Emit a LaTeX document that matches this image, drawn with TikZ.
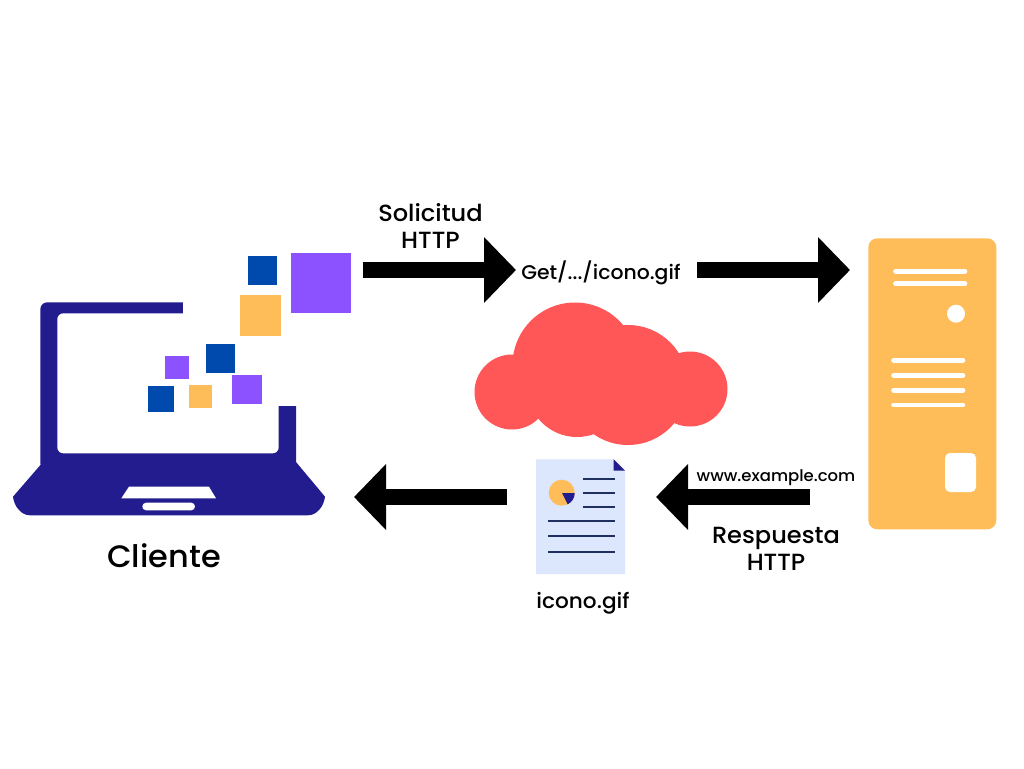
\documentclass[tikz,border=0pt]{standalone}
\usepackage{fontspec}
\setmainfont{Poppins Medium}[FakeStretch=1.03]
\usetikzlibrary{arrows.meta}
\definecolor{navy}{HTML}{231C8E}
\definecolor{purp}{HTML}{8C52FF}
\definecolor{oran}{HTML}{FFBD59}
\definecolor{blu}{HTML}{004AAD}
\definecolor{redc}{HTML}{FF5757}
\definecolor{docb}{HTML}{DCE6FC}
\definecolor{docl}{HTML}{1F2F5F}
\tikzset{
  x=1pt,y=-1pt,
  blockarrow/.style={line width=16pt,black,-{Triangle[length=32pt,width=64pt]},shorten >=0pt},
  lab/.style={inner sep=0pt,align=center,black},
  labbig/.style={lab,font=\fontsize{23.4}{27}\selectfont},
  srvline/.style={white,line width=4.6pt,line cap=round},
  docline/.style={docl,line width=1.8pt}
}
\begin{document}
\begin{tikzpicture}
\useasboundingbox (0,0) rectangle (1024,768);
\fill[white] (0,0) rectangle (1024,768);
% laptop
\fill[navy,rounded corners=7pt] (40.3,302.3) rectangle (296,470);
\fill[white,rounded corners=6pt] (57.3,313.3) rectangle (278.7,453.3);
\fill[white] (183.3,300) rectangle (298,320);
\fill[white] (265,313) rectangle (298,405.7);
\fill[navy] (43,462) -- (13,496.7) .. controls (14,506) and (21,515.3) .. (30,515.3) -- (308,515.3) .. controls (317,515.3) and (324,506) .. (325,496.7) -- (296,462) -- cycle;
\fill[white] (129,486.7) -- (209,486.7) -- (216,498.3) -- (121.3,498.3) -- cycle;
\fill[white,rounded corners=3.8pt] (142.3,502.7) rectangle (195,510.3);
% squares
\fill[blu] (248.3,256) rectangle (277.3,285);
\fill[purp] (290.7,252.7) rectangle (351,312.7);
\fill[oran] (240.3,295) rectangle (281.3,335.7);
\fill[blu] (206,343.7) rectangle (235,372.7);
\fill[purp] (165,355.7) rectangle (188.7,379);
\fill[blu] (147.7,386) rectangle (174,412.3);
\fill[oran] (188.7,384.7) rectangle (212,408);
\fill[purp] (232.3,375.3) rectangle (261.7,404.3);
% cloud
\fill[redc] (512,392) circle[radius=37.5];
\fill[redc] (575,365) circle[radius=62.5];
\fill[redc] (577,387) circle[radius=50];
\fill[redc] (628,385) circle[radius=60];
\fill[redc] (690,389) circle[radius=37.5];
% document
\fill[docb] (536,459.3) -- (613.7,459.3) -- (625,470.7) -- (625,574) -- (536,574) -- cycle;
\fill[navy] (613.7,459.3) -- (613.7,470.7) -- (625,470.7) -- cycle;
\fill[oran] (561.7,492.7) circle[radius=13];
\fill[navy] (562,493) -- (574.7,493) .. controls (574.7,498) and (572,502) .. (567.7,504.3) -- cycle;
\draw[docline] (583.3,479) -- (614.7,479);
\draw[docline] (583.3,492.7) -- (614.7,492.7);
\draw[docline] (583.3,506.7) -- (614.7,506.7);
\draw[docline] (548.3,520.7) -- (614.7,520.7);
\draw[docline] (548.3,536.3) -- (614.7,536.3);
\draw[docline] (548.3,551.7) -- (614.7,551.7);
% server
\fill[oran,rounded corners=9pt] (868.3,238.3) rectangle (996.3,529.3);
\draw[srvline] (895.5,271.3) -- (965,271.3);
\draw[srvline] (895.5,283.7) -- (965,283.7);
\draw[srvline] (893.5,360.3) -- (963,360.3);
\draw[srvline] (893.5,375.3) -- (963,375.3);
\draw[srvline] (893.5,390.3) -- (963,390.3);
\draw[srvline] (893.5,405) -- (963,405);
\fill[white] (956,313.7) circle[radius=9];
\fill[white,rounded corners=5pt] (945,453) rectangle (976,492);
% arrows
\coordinate (a1s) at (362.5,270);
\coordinate (a1e) at (516,270);
\coordinate (a2s) at (697,270);
\coordinate (a2e) at (850,270);
\coordinate (a3s) at (507,497);
\coordinate (a3e) at (354,497);
\coordinate (a4s) at (810,497);
\coordinate (a4e) at (656,497);
\draw[blockarrow] (a1s) -- (a1e);
\draw[blockarrow] (a2s) -- (a2e);
\draw[blockarrow] (a3s) -- (a3e);
\draw[blockarrow] (a4s) -- (a4e);
% labels
\node[labbig] (solicitud) at (430.5,226) {Solicitud\\HTTP};
\node[lab,font=\fontsize{19.8}{24}\selectfont] (get) at (601,273) {Get/.../icono.gif};
\node[lab,font=\fontsize{16}{18}\selectfont] (www) at (776,478) {www.example.com};
\node[labbig] (respuesta) at (776,549) {Respuesta\\HTTP};
\node[lab,font=\fontsize{21}{24}\selectfont] (icono) at (583,603) {icono.gif};
\node[lab,font=\fontsize{31}{36}\selectfont] (cliente) at (164,556) {Cliente};
\end{tikzpicture}
\end{document}
